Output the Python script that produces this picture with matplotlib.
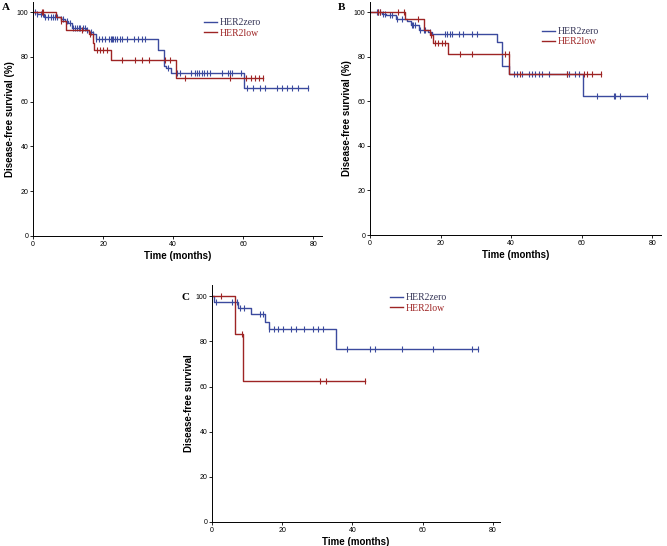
import numpy as np
import matplotlib
matplotlib.use("Agg")
import matplotlib.pyplot as plt

# ---- panel A ----
a_zero_t = [0, 1, 3, 8, 9, 10, 11, 15, 16, 17, 18, 35.6, 37.3, 38, 39.5, 60.3]
a_zero_s = [100, 99, 98, 97, 96, 95, 93, 92, 91, 90, 88, 83, 76, 75, 73, 66]
a_zero_end = 78.6
a_zero_cens = [0.6, 1.2, 2.2, 2.9, 3.4, 4.4, 5, 5.8, 6.3, 6.8, 8, 8.6, 9.6, 10.6, 11.5,
               12, 12.5, 13, 13.4, 14.2, 14.8, 15.3, 16.5, 17.2, 18, 18.7, 19.6, 20.6,
               21.8, 22.2, 22.6, 22.9, 23.4, 23.9, 24.7, 25.3, 26.8, 28.7, 30.1, 31.1, 32,
               38.6, 41.2, 42, 45.1, 46.3, 46.8, 47.5, 48.2, 48.9, 49.6, 50.6, 53.9, 55.8,
               56.3, 56.8, 59.4, 61.2, 62.9, 64.7, 66.3, 69.6, 71, 72.5, 73.9, 75.6, 78.6]
a_low_t = [0, 6.5, 8, 9.5, 16, 17, 17.5, 22.2, 40.8]
a_low_s = [100, 98, 96, 92, 90, 86, 83, 78.5, 70.7]
a_low_end = 65.7
a_low_cens = [2.5, 2.8, 8, 14, 16.3, 18.3, 19, 20, 21, 25.5, 29, 31, 33, 37.8, 39.2,
              43.4, 56.3, 60.8, 62.3, 63.4, 64.6, 65.7]

# ---- panel B ----
b_zero_t = [0, 3.5, 4.5, 7.5, 10.5, 11.5, 14, 16.5, 17.5, 36, 37.5, 39.5, 60.3]
b_zero_s = [100, 99, 98.5, 97, 96, 94, 92, 91, 90, 86.4, 76, 72.4, 62.2]
b_zero_end = 78.6
b_zero_cens = [1.9, 2.4, 2.8, 3.8, 4.3, 5.7, 6.2, 7.6, 9, 11.8, 12.3, 12.8, 14.2, 15.2,
               15.6, 17, 21.3, 21.8, 22.7, 23.2, 25.1, 26.5, 28.9, 30.3, 39.3, 40.7, 41.7,
               43.1, 45, 45.9, 46.9, 47.8, 48.8, 50.7, 55.9, 56.3, 58.2, 59.2, 64.4, 69.1,
               69.6, 71, 78.6]
b_low_t = [0, 10, 15.4, 17, 17.8, 22.2, 39.5]
b_low_s = [100, 96.7, 92, 89.5, 85.9, 81, 72]
b_low_end = 65.5
b_low_cens = [2.4, 2.8, 8, 9.5, 13.7, 17.3, 18.5, 19.4, 20.4, 21.3, 25.6, 28.9, 38.2,
              39.3, 42.6, 55.9, 60.6, 61.6, 62.8, 65.5]

# ---- panel C ----
c_zero_t = [0, 0.5, 7.5, 11, 15.1, 16.1, 35.2]
c_zero_s = [100, 97.5, 94.8, 92, 88.6, 85.4, 76.8]
c_zero_end = 75.8
c_zero_cens = [1, 5.8, 7.1, 8, 9, 13.7, 14.4, 16.1, 17.7, 18.8, 20.2, 22.4, 23.9, 26.2,
               28.7, 30.3, 31.6, 38.4, 45.1, 46.5, 54.1, 63, 73.9, 75.8]
c_low_t = [0, 6.6, 8.8]
c_low_s = [100, 83.3, 62.5]
c_low_end = 43.6
c_low_cens = [2.7, 8.6, 30.8, 32.5, 43.6]

BLUE = "#3b4a9e"
RED = "#9e2424"
SANS = "Liberation Sans"
SERIF = "Liberation Serif"


def km(ax, t, s, end, cens, color, label):
    x = list(t) + [end]
    y = list(s) + [s[-1]]
    ax.step(x, y, where="post", color=color, lw=1.0, label=label)
    idx = np.searchsorted(np.array(t), np.array(cens), side="right") - 1
    cy = np.array(s)[idx]
    ax.plot(cens, cy, ls="none", marker="|", ms=4, mew=0.8, color=color)


def style(ax, ylabel, ytop, xmax, letter, letter_xy, leg_xy):
    ax.set_xlim(0, xmax)
    ax.set_ylim(0, ytop)
    ax.set_xticks([0, 20, 40, 60, 80])
    ax.set_yticks([0, 20, 40, 60, 80, 100])
    for sp in ["top", "right"]:
        ax.spines[sp].set_visible(False)
    for sp in ["left", "bottom"]:
        ax.spines[sp].set_linewidth(0.7)
    ax.tick_params(direction="out", length=2.5, width=0.6, labelsize=5, pad=1)
    for lab in ax.get_xticklabels() + ax.get_yticklabels():
        lab.set_family(SANS)
    ax.set_xlabel("Time (months)", fontsize=7, fontweight="bold", family=SANS, labelpad=2)
    ax.set_ylabel(ylabel, fontsize=7, fontweight="bold", family=SANS, labelpad=1)
    ax.figure.text(letter_xy[0], letter_xy[1], letter, fontsize=8, fontweight="bold",
                   family=SERIF, ha="left", va="center")
    leg = ax.legend(loc="upper left", bbox_to_anchor=leg_xy, frameon=False,
                    prop={"family": SERIF, "size": 7}, handlelength=1.3,
                    handletextpad=0.3, labelspacing=0.15, borderaxespad=0, borderpad=0)
    texts = leg.get_texts()
    texts[0].set_color("#333355")
    texts[1].set_color(RED)


fig = plt.figure(figsize=(6.67, 5.46), dpi=100)
W, H = 667, 546

axA = fig.add_axes([33 / W, 1 - 236 / H, 289 / W, 234 / H])
km(axA, a_zero_t, a_zero_s, a_zero_end, a_zero_cens, BLUE, "HER2zero")
km(axA, a_low_t, a_low_s, a_low_end, a_low_cens, RED, "HER2low")
style(axA, "Disease-free survival (%)", 104.5, 82.5, "A", (2 / W, 1 - 7 / H), (0.592, 0.93))

axB = fig.add_axes([370 / W, 1 - 235 / H, 291 / W, 233 / H])
km(axB, b_zero_t, b_zero_s, b_zero_end, b_zero_cens, BLUE, "HER2zero")
km(axB, b_low_t, b_low_s, b_low_end, b_low_cens, RED, "HER2low")
style(axB, "Disease-free survival (%)", 104.5, 82.5, "B", (338 / W, 1 - 7 / H), (0.591, 0.893))

axC = fig.add_axes([212 / W, 1 - 522 / H, 288 / W, 237 / H])
km(axC, c_zero_t, c_zero_s, c_zero_end, c_zero_cens, BLUE, "HER2zero")
km(axC, c_low_t, c_low_s, c_low_end, c_low_cens, RED, "HER2low")
style(axC, "Disease-free survival", 105, 82, "C", (181 / W, 1 - 297 / H), (0.618, 0.966))

fig.savefig("out.png", dpi=100)
